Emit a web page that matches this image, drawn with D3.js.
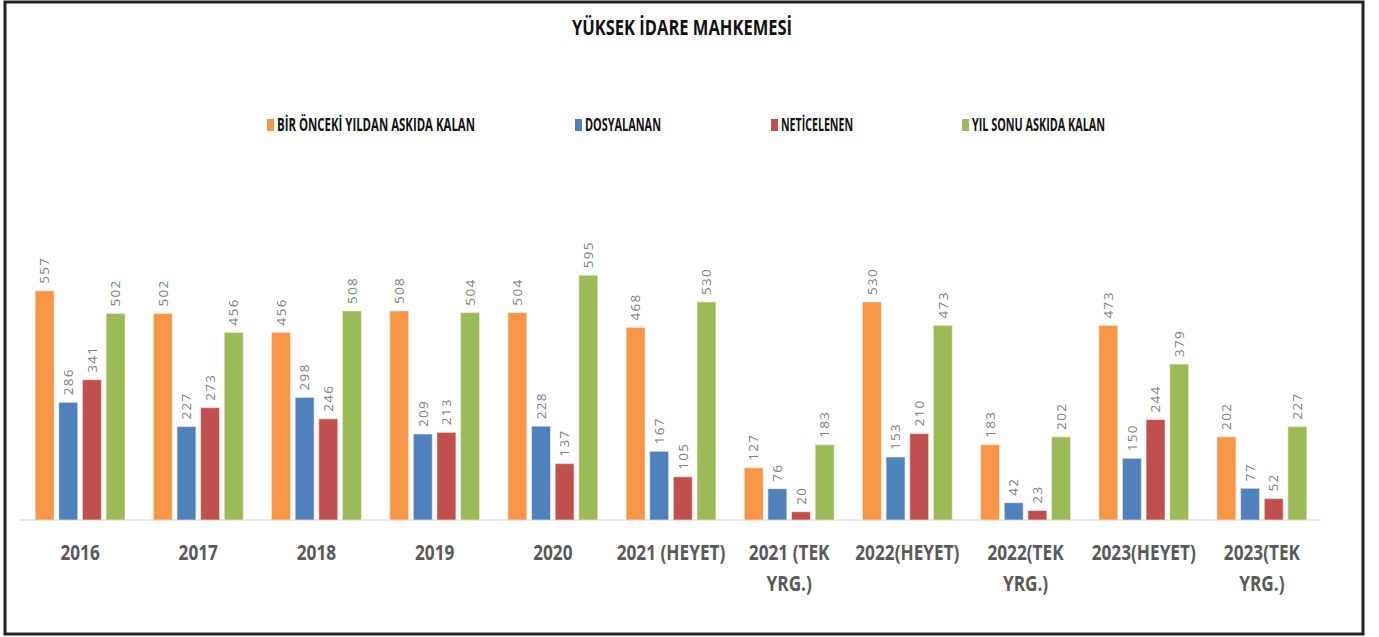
<!DOCTYPE html>
<html>
<head>
<meta charset="utf-8">
<script src="https://cdn.jsdelivr.net/npm/d3@7"></script>
<style>
  body { margin: 0; background: #fff; }
  svg { display: block; }
</style>
</head>
<body>
<svg id="chart" width="1379" height="637"></svg>
<script>
// chart data
let categories = ["2016", "2017", "2018", "2019", "2020", "2021 (HEYET)", "2021 (TEK YRG.)",
                  "2022(HEYET)", "2022(TEK YRG.)", "2023(HEYET)", "2023(TEK YRG.)"];
let seriesNames = ["BİR ÖNCEKİ YILDAN ASKIDA KALAN", "DOSYALANAN", "NETİCELENEN", "YIL SONU ASKIDA KALAN"];
let oncekiYil = [557, 502, 456, 508, 504, 468, 127, 530, 183, 473, 202];
let dosyalanan = [286, 227, 298, 209, 228, 167, 76, 153, 42, 150, 77];
let neticelenen = [341, 273, 246, 213, 137, 105, 20, 210, 23, 244, 52];
let yilSonu = [502, 456, 508, 504, 595, 530, 183, 473, 202, 379, 227];
let colors = ["#F79646", "#4F81BD", "#C0504D", "#9BBB59"];

let seriesValues = [oncekiYil, dosyalanan, neticelenen, yilSonu];

let svg = d3.select("#chart");
let font = "'Open Sans', 'Noto Sans', sans-serif";

// outer frame
svg.append("rect")
  .attr("x", 5).attr("y", 2)
  .attr("width", 1358).attr("height", 632)
  .attr("fill", "none")
  .attr("stroke", "#222")
  .attr("stroke-width", 3);

// title (condensed look via textLength)
svg.append("text")
  .attr("x", 572).attr("y", 35)
  .style("font-family", font)
  .style("font-weight", "bold")
  .style("font-size", "22px")
  .attr("fill", "#111")
  .attr("textLength", 220)
  .attr("lengthAdjust", "spacingAndGlyphs")
  .text("YÜKSEK İDARE MAHKEMESİ");

// legend
let legendX = [267, 575, 771, 962];
let legendW = [198, 76, 72, 133];
let legend = svg.append("g");
seriesNames.forEach(function(name, i) {
  legend.append("rect")
    .attr("x", legendX[i]).attr("y", 119)
    .attr("width", 7).attr("height", 12)
    .attr("fill", colors[i]);
  legend.append("text")
    .attr("x", legendX[i] + 10).attr("y", 131)
    .style("font-family", font)
    .style("font-weight", "bold")
    .style("font-size", "18px")
    .attr("fill", "#111")
    .attr("textLength", legendW[i])
    .attr("lengthAdjust", "spacingAndGlyphs")
    .text(name);
});

// scales
let x0 = d3.scaleBand()
  .domain(categories)
  .range([21, 1321])
  .paddingInner(0.24)
  .paddingOuter(0.12);

let x1 = d3.scaleBand()
  .domain(d3.range(seriesNames.length))
  .range([0, x0.bandwidth()])
  .paddingInner(0.2);

let y = d3.scaleLinear()
  .domain([0, 700])
  .range([520, 232]);

// baseline
svg.append("line")
  .attr("x1", 20).attr("x2", 1321)
  .attr("y1", y(0)).attr("y2", y(0))
  .attr("stroke", "#e3e3e3")
  .attr("stroke-width", 1.5);

// bars grouped by category
let groups = svg.selectAll("g.group")
  .data(categories)
  .enter()
  .append("g")
  .attr("class", "group")
  .attr("transform", function(d) { return "translate(" + x0(d) + ",0)"; });

groups.selectAll("rect")
  .data(function(d, ci) {
    return seriesValues.map(function(vals, si) { return {s: si, v: vals[ci]}; });
  })
  .enter()
  .append("rect")
  .attr("x", function(d) { return x1(d.s); })
  .attr("y", function(d) { return y(d.v); })
  .attr("width", x1.bandwidth())
  .attr("height", function(d) { return y(0) - y(d.v); })
  .attr("fill", function(d) { return colors[d.s]; })
  .attr("stroke", "#fbe9e0")
  .attr("stroke-opacity", 0.6)
  .attr("stroke-width", 1);

// rotated value labels
groups.selectAll("text.val")
  .data(function(d, ci) {
    return seriesValues.map(function(vals, si) { return {s: si, v: vals[ci]}; });
  })
  .enter()
  .append("text")
  .attr("class", "val")
  .attr("transform", function(d) {
    return "translate(" + (x1(d.s) + x1.bandwidth() / 2) + "," + (y(d.v) - 7) + ") rotate(-90)";
  })
  .attr("dy", "0.35em")
  .style("font-family", font)
  .style("font-size", "13.5px")
  .style("letter-spacing", "1.3px")
  .attr("fill", "#808080")
  .text(function(d) { return d.v; });

// category labels, squeezed horizontally and wrapped when too wide
let squeeze = 0.82;
let labels = svg.append("g");
categories.forEach(function(c) {
  let t = labels.append("text")
    .attr("transform", "translate(" + (x0(c) + x0.bandwidth() / 2) + ",560) scale(" + squeeze + ",1)")
    .attr("text-anchor", "middle")
    .style("font-family", font)
    .style("font-weight", "bold")
    .style("font-size", "21px")
    .attr("fill", "#595959");
  let words = c.split(" ");
  let line = [];
  let tspan = t.append("tspan").attr("x", 0).attr("dy", 0);
  words.forEach(function(w) {
    line.push(w);
    tspan.text(line.join(" "));
    if (tspan.node().getComputedTextLength() * squeeze > 112 && line.length > 1) {
      line.pop();
      tspan.text(line.join(" "));
      line = [w];
      tspan = t.append("tspan")
        .attr("x", 0)
        .attr("dy", 31)
        .text(w);
    }
  });
});
</script>
</body>
</html>
